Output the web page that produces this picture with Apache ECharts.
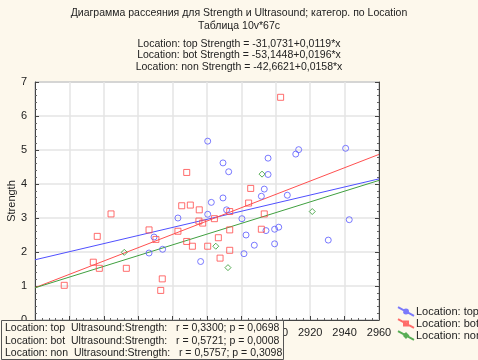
<!DOCTYPE html>
<html>
<head>
<meta charset="utf-8">
<script src="https://cdn.jsdelivr.net/npm/echarts@6/dist/echarts.min.js"></script>
<style>
  html, body { margin: 0; padding: 0; background: #fdf8ec; }
  #chart { width: 478px; height: 360px; }
</style>
</head>
<body>
<div id="chart"></div>
<script>
// Ultrasound (x), Strength (y) per location
const topX = [2860.4, 2869.3, 2872.6, 2895.5, 2895.5, 2893.3, 2891.6, 2862.5, 2869.3, 2860.4,
              2871.4, 2843.1, 2880.3, 2882.7, 2894.3, 2829.2, 2834.2, 2826.3, 2856.3, 2881.5,
              2887.5, 2911.6, 2913.3, 2940.6, 2906.7, 2899.3, 2901.7, 2899.3, 2930.5, 2942.7];
const topY = [5.26, 4.62, 4.36, 4.76, 4.28, 3.85, 3.64, 3.46, 3.59, 3.11,
              3.24, 3.00, 2.98, 2.50, 2.63, 2.44, 2.08, 1.97, 1.72, 1.95,
              2.20, 4.88, 5.01, 5.05, 3.67, 2.67, 2.73, 2.24, 2.35, 2.95];

const botX = [2777.0, 2793.9, 2797.4, 2796.2, 2804.2, 2813.1, 2826.3, 2830.3, 2834.0, 2833.1,
              2848.2, 2845.3, 2850.3, 2843.1, 2848.2, 2851.5, 2855.5, 2855.3, 2857.5, 2860.4,
              2864.3, 2866.6, 2867.6, 2873.2, 2873.2, 2873.2, 2884.2, 2885.4, 2891.6, 2893.3, 2902.8];
const botY = [1.02, 1.70, 1.52, 2.46, 3.12, 1.52, 2.65, 2.37, 1.21, 0.87,
              4.34, 3.36, 3.38, 2.61, 2.31, 2.17, 3.24, 2.91, 2.85, 2.17,
              2.98, 2.42, 1.82, 3.19, 2.65, 2.05, 3.44, 3.87, 2.67, 3.12, 6.55];

const nonX = [2811.9, 2865.1, 2872.2, 2892.0, 2921.2];
const nonY = [1.99, 2.17, 1.54, 4.29, 3.19];

// regression coefficients from the header
const groups = ['top', 'bot', 'non'];
const intercepts = [-31.0731, -53.1448, -42.6621];
const slopes = [0.0119, 0.0196, 0.0158];
const rValues = ['0,3300', '0,5721', '0,5757'];
const pValues = ['0,0698', '0,0008', '0,3098'];

const xMin = 2760, xMax = 2960;
const colors = ['#5a5aff', '#ff4a4a', '#2e9a2e'];
const lineColors = ['#5050ff', '#ff5050', '#40a040'];
const symbols = ['circle', 'rect', 'diamond'];
const icons = [
  'path://M0,0L24,13M9,6.5a3,3 0 1,0 6,0a3,3 0 1,0 -6,0',
  'path://M0,0L24,13M9,3.5L15,3.5L15,9.5L9,9.5Z',
  'path://M0,0L24,13M12,3.5L15,6.5L12,9.5L9,6.5Z'
];

const pts = [[topX, topY], [botX, botY], [nonX, nonY]];

const chart = echarts.init(document.getElementById('chart'));
const font = 'Liberation Sans, Arial, sans-serif';

const series = [];
groups.forEach((g, i) => {
  series.push({
    name: 'Location: ' + g,
    type: 'scatter',
    symbol: symbols[i],
    symbolSize: 6,
    data: pts[i][0].map((x, k) => [x, pts[i][1][k]]),
    itemStyle: { color: 'transparent', borderColor: colors[i], borderWidth: 1 },
    emphasis: { disabled: true },
    z: 3
  });
});
groups.forEach((g, i) => {
  series.push({
    name: 'fit ' + g,
    type: 'line',
    symbol: 'none',
    silent: true,
    data: [[xMin, intercepts[i] + slopes[i] * xMin], [xMax, intercepts[i] + slopes[i] * xMax]],
    lineStyle: { color: lineColors[i], width: 1 },
    z: 2
  });
});

const statsText = groups.map((g, i) =>
  'Location: ' + g + '  Ultrasound:Strength:   r = ' + rValues[i] + '; p = ' + pValues[i]
).join('\n');

chart.setOption({
  backgroundColor: '#fdf8ec',
  animation: false,
  textStyle: { fontFamily: font },
  title: [
    {
      text: 'Диаграмма рассеяния для Strength и Ultrasound; категор. по Location\nТаблица 10v*67c',
      left: 'center',
      top: 2,
      textStyle: { fontSize: 10.5, fontWeight: 'normal', color: '#222', lineHeight: 13, fontFamily: font }
    },
    {
      text: groups.map((g, i) => 'Location: ' + g + ' Strength = ' +
        String(intercepts[i].toFixed(4)).replace('.', ',') + '+' +
        String(slopes[i].toFixed(4)).replace('.', ',') + '*x').join('\n'),
      left: 'center',
      top: 33,
      textStyle: { fontSize: 10.5, fontWeight: 'normal', color: '#222', lineHeight: 11.5, fontFamily: font }
    }
  ],
  grid: {
    left: 35, right: 99, top: 82, bottom: 40,
    outerBoundsMode: 'none',
    show: true, backgroundColor: '#ffffff', borderColor: '#555', borderWidth: 1
  },
  legend: {
    data: groups.map((g, i) => ({ name: 'Location: ' + g, icon: icons[i] })),
    orient: 'vertical',
    left: 397,
    top: 306,
    itemGap: 1,
    itemWidth: 16,
    itemHeight: 10,
    padding: 0,
    textStyle: { fontSize: 11, color: '#222', fontFamily: font, padding: [0, 0, 0, -3] }
  },
  xAxis: {
    type: 'value',
    min: xMin, max: xMax, interval: 20,
    name: 'Ultrasound',
    nameLocation: 'middle',
    nameGap: 22,
    nameTextStyle: { fontSize: 11, color: '#222' },
    axisLine: { lineStyle: { color: '#444' } },
    axisTick: { inside: true, length: 4, lineStyle: { color: '#444' } },
    minorTick: { show: true, splitNumber: 5, length: 2, lineStyle: { color: '#666' } },
    axisLabel: { fontSize: 11, color: '#222', margin: 7, formatter: v => String(v) },
    splitLine: { show: true, lineStyle: { color: '#e4e4e4', width: 1.5 } }
  },
  yAxis: [
    {
      type: 'value',
      min: 0, max: 7, interval: 1,
      name: 'Strength',
      nameLocation: 'middle',
      nameGap: 18,
      nameMoveOverlap: false,
      nameTextStyle: { fontSize: 11, color: '#222' },
      axisLine: { show: true, lineStyle: { color: '#444' } },
      axisTick: { show: true, inside: true, length: 4, lineStyle: { color: '#444' } },
      minorTick: { show: true, splitNumber: 5, length: 2, lineStyle: { color: '#666' } },
      axisLabel: { fontSize: 11, color: '#222', margin: 8 },
      splitLine: { show: true, lineStyle: { color: '#e4e4e4', width: 1.5 } }
    },
    {
      type: 'value',
      min: 0, max: 7, interval: 1,
      position: 'right',
      axisLine: { show: true, lineStyle: { color: '#444' } },
      axisTick: { show: true, inside: true, length: 4, lineStyle: { color: '#444' } },
      minorTick: { show: true, splitNumber: 5, length: 2, lineStyle: { color: '#666' } },
      axisLabel: { show: false },
      splitLine: { show: false }
    }
  ],
  graphic: [
    {
      type: 'rect',
      z: 100,
      shape: { x: 1.5, y: 320.5, width: 282, height: 39 },
      style: { fill: '#fdf8ec', stroke: '#555', lineWidth: 1 }
    },
    {
      type: 'text',
      z: 101,
      x: 5, y: 322,
      style: { text: statsText, font: '10.5px ' + font, fill: '#222', lineHeight: 12.5 }
    }
  ],
  series: series
});
</script>
</body>
</html>
